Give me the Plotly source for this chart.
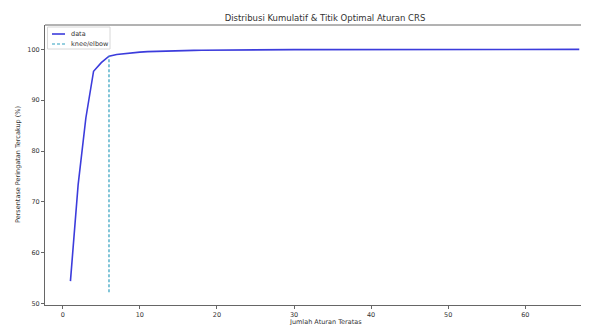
import plotly.graph_objects as go

title_text = "Distribusi Kumulatif & Titik Optimal Aturan CRS"
x_label = "Jumlah Aturan Teratas"
y_label = "Persentase Peringatan Tercakup (%)"
legend_labels = ["data", "knee/elbow"]

n_rules = list(range(1, 68))
coverage = [
    54.4, 73.4, 86.5, 95.7, 97.4, 98.65, 99.0, 99.2, 99.35, 99.47,
    99.56, 99.62, 99.67, 99.71, 99.75, 99.78, 99.81, 99.83, 99.85, 99.87,
    99.88, 99.89, 99.90, 99.91, 99.92, 99.93, 99.94, 99.94, 99.95, 99.95,
    99.96, 99.96, 99.96, 99.97, 99.97, 99.97, 99.97, 99.98, 99.98, 99.98,
    99.98, 99.98, 99.98, 99.99, 99.99, 99.99, 99.99, 99.99, 99.99, 99.99,
    99.99, 99.99, 99.99, 99.99, 100.0, 100.0, 100.0, 100.0, 100.0, 100.0,
    100.0, 100.0, 100.0, 100.0, 100.0, 100.0, 100.0,
]
knee_x = 6
knee_y_range = [52.2, 98.65]

x_ticks = [0, 10, 20, 30, 40, 50, 60]
y_ticks = [50, 60, 70, 80, 90, 100]

FONT = "DejaVu Sans"
DATA_COLOR = "#3c3cdc"
KNEE_COLOR = "#2f9fbf"
TXT = "#333"

W, H = 589, 325
L, R, T, B = 37, 0, 17, 28
PW, PH = W - L - R, H - T - B


def px(x):
    return (x - L) / PW


def py(y):
    return (H - B - y) / PH


fig = go.Figure()
fig.add_trace(go.Scatter(
    x=n_rules, y=coverage, mode="lines", name=legend_labels[0],
    line=dict(color=DATA_COLOR, width=1.6), showlegend=False,
))
fig.add_trace(go.Scatter(
    x=[knee_x, knee_x], y=knee_y_range, mode="lines", name=legend_labels[1],
    line=dict(color=KNEE_COLOR, width=1.2, dash="3px,2px"), showlegend=False,
))

fig.update_layout(
    width=W, height=H,
    margin=dict(l=L, r=R, t=T, b=B),
    paper_bgcolor="white", plot_bgcolor="white",
    font=dict(family=FONT, size=7, color=TXT),
    title=dict(text=title_text, x=317 / W, xanchor="center", y=1 - 10 / H,
               yanchor="middle", font=dict(size=8.5, color=TXT, family=FONT)),
    showlegend=False,
    xaxis=dict(range=[-2.3, 69.3], tickvals=x_ticks, showgrid=False, zeroline=False,
               showline=True, linecolor="#666", linewidth=1, mirror=False,
               ticks="outside", ticklen=3, tickcolor="#666", ticklabelstandoff=0,
               tickfont=dict(size=6.5, color=TXT)),
    yaxis=dict(range=[49.7, 104.8], tickvals=y_ticks, showgrid=False, zeroline=False,
               showline=True, linecolor="#666", linewidth=1, mirror=False,
               ticks="outside", ticklen=3, tickcolor="#666",
               tickfont=dict(size=6.5, color=TXT)),
)
# top spine
fig.add_shape(type="line", xref="paper", yref="paper", x0=0, x1=1, y0=1, y1=1,
              line=dict(color="#666", width=1))

# axis titles
fig.add_annotation(text=x_label, xref="paper", yref="paper", x=px(317), y=py(314),
                   xanchor="center", yanchor="middle", showarrow=False, borderpad=0,
                   font=dict(size=6.5, color=TXT, family=FONT))
fig.add_annotation(text=y_label, xref="paper", yref="paper", x=px(10), y=py(157),
                   xanchor="center", yanchor="middle", showarrow=False, textangle=-90,
                   borderpad=0, font=dict(size=6.5, color=TXT, family=FONT))

# legend box
fig.add_shape(type="rect", xref="paper", yref="paper",
              x0=px(39.5), x1=px(102), y0=py(19), y1=py(41),
              line=dict(color="#d8d8d8", width=1), fillcolor="rgba(255,255,255,0.9)")
fig.add_shape(type="line", xref="paper", yref="paper",
              x0=px(44), x1=px(57), y0=py(26), y1=py(26),
              line=dict(color=DATA_COLOR, width=1.6))
fig.add_shape(type="line", xref="paper", yref="paper",
              x0=px(44), x1=px(57), y0=py(36), y1=py(36),
              line=dict(color=KNEE_COLOR, width=1.2, dash="3px,2px"))
for lbl, yy in zip(legend_labels, [26, 36]):
    fig.add_annotation(text=lbl, xref="paper", yref="paper", x=px(61.5), y=py(yy),
                       xanchor="left", yanchor="middle", showarrow=False, borderpad=0,
                       font=dict(size=6.5, color=TXT, family=FONT))

fig.write_html("out.html")
